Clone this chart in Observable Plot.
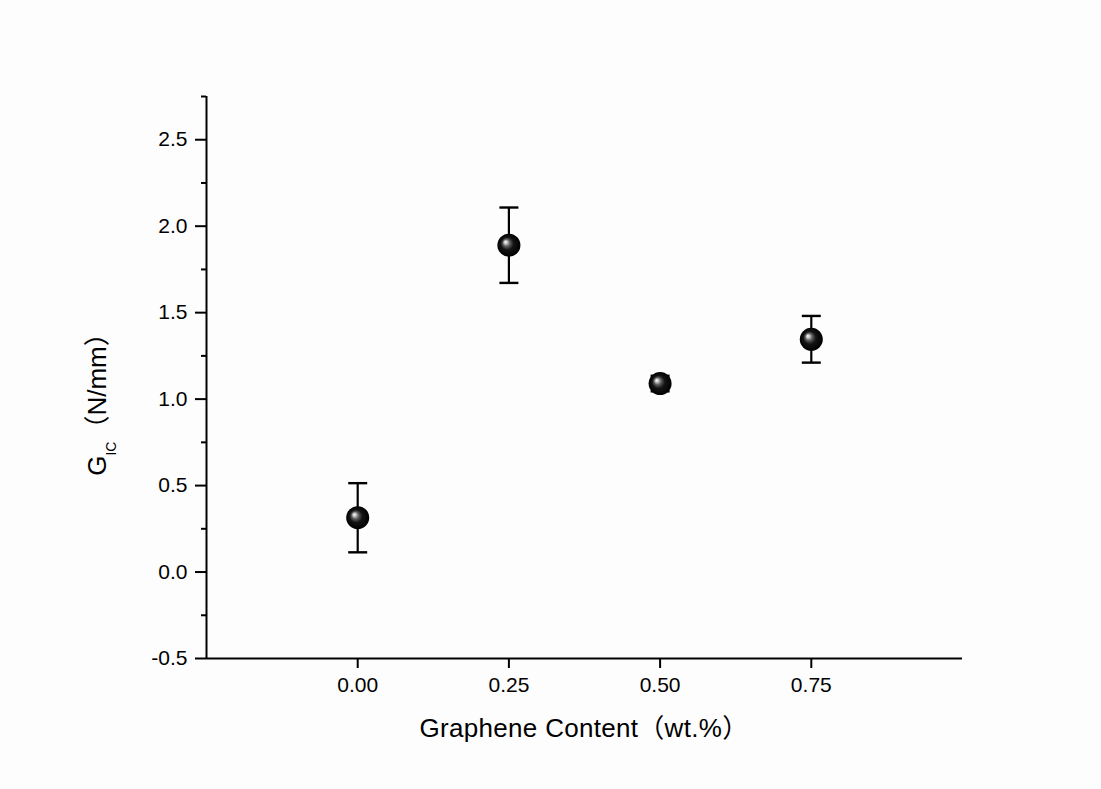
<!DOCTYPE html>
<html>
<head>
<meta charset="utf-8">
<script src="https://cdn.jsdelivr.net/npm/d3@7"></script>
<script src="https://cdn.jsdelivr.net/npm/@observablehq/plot@0.6"></script>
<style>
  html, body { margin: 0; padding: 0; background: #fdfdfd; }
  #chart svg { display: block; }
</style>
</head>
<body>
<div id="chart"></div>
<script>
// Fracture energy G_IC against graphene loading (mean ± error)
const content = [0.00, 0.25, 0.50, 0.75];
const gic = [0.314, 1.89, 1.09, 1.346];
const gicErr = [0.20, 0.218, 0.045, 0.135];

const xTicks = [0, 0.25, 0.5, 0.75];
const yTicks = [-0.5, 0, 0.5, 1.0, 1.5, 2.0, 2.5];
const yMinorTicks = [-0.25, 0.25, 0.75, 1.25, 1.75, 2.25, 2.75];

const xLabel = "Graphene Content（wt.%）";
const yLabelMain = "G";
const yLabelSub = "IC";
const yLabelUnit = "（N/mm）";

const points = content.map((x, i) => ({x, y: gic[i], lo: gic[i] - gicErr[i], hi: gic[i] + gicErr[i]}));
const caps = points.flatMap(d => [{x: d.x, y: d.lo}, {x: d.x, y: d.hi}]);

// horizontal bar used for the error-bar caps; half-width equals the dot radius
const capSymbol = {
  draw(ctx, size) {
    const w = Math.sqrt(size / Math.PI);
    ctx.moveTo(-w, 0);
    ctx.lineTo(w, 0);
  }
};

// shaded sphere fill for the markers
function sphereDefs() {
  const defs = d3.create("svg:defs");
  const g = defs.append("radialGradient")
    .attr("id", "sphere")
    .attr("cx", "50%").attr("cy", "50%").attr("r", "50%")
    .attr("fx", "34%").attr("fy", "35%");
  [[0, "#ffffff"], [0.12, "#cfcfcf"], [0.32, "#5a5a5a"], [0.55, "#141414"], [1, "#000000"]]
    .forEach(([o, c]) => g.append("stop").attr("offset", o).attr("stop-color", c));
  return defs.node();
}

// axis titles, the vertical one with a subscript
function axisTitles(index, scales, values, dims) {
  const g = d3.create("svg:g").attr("fill", "black").attr("font-size", 26);
  const x0 = dims.marginLeft, x1 = dims.width - dims.marginRight;
  const y0 = dims.marginTop, y1 = dims.height - dims.marginBottom;
  g.append("text")
    .attr("x", (x0 + x1) / 2)
    .attr("y", y1 + 79)
    .attr("text-anchor", "middle")
    .attr("letter-spacing", 0.3)
    .text(xLabel);
  const t = g.append("text")
    .attr("transform", `translate(${x0 - 100},${(y0 + y1) / 2 + 21}) rotate(-90)`)
    .attr("text-anchor", "middle");
  t.append("tspan").text(yLabelMain);
  t.append("tspan").attr("font-size", 14).attr("dy", 10).text(yLabelSub);
  t.append("tspan").attr("dy", -10).text(yLabelUnit);
  return g.node();
}

const chart = Plot.plot({
  width: 1101,
  height: 789,
  marginLeft: 206,
  marginRight: 139,
  marginTop: 96,
  marginBottom: 131,
  style: {
    background: "transparent",
    color: "black",
    fontFamily: "'Liberation Sans', Arial, 'Noto Sans CJK SC', sans-serif",
    overflow: "visible"
  },
  x: {domain: [-0.25, 1.0], label: null},
  y: {domain: [-0.5, 2.75], label: null},
  marks: [
    sphereDefs,
    Plot.axisY(yMinorTicks, {tickSize: 5, strokeWidth: 2, tickFormat: () => "", label: null}),
    Plot.axisY(yTicks, {tickSize: 11, tickPadding: 8, strokeWidth: 2, fontSize: 21, tickFormat: d => d.toFixed(1), label: null}),
    Plot.axisX(xTicks, {tickSize: 10, tickPadding: 9, strokeWidth: 2, fontSize: 21, tickFormat: d => d.toFixed(2), label: null}),
    Plot.ruleX([-0.25], {strokeWidth: 2}),
    Plot.ruleY([-0.5], {strokeWidth: 2}),
    Plot.ruleX(points, {x: "x", y1: "lo", y2: "hi", strokeWidth: 2.2, stroke: "black"}),
    Plot.dot(caps, {x: "x", y: "y", r: 9.5, symbol: capSymbol, stroke: "black", strokeWidth: 2.4, fill: "none"}),
    Plot.dot(points, {x: "x", y: "y", r: 11.5, fill: "url(#sphere)", stroke: "none"}),
    axisTitles
  ]
});

document.getElementById("chart").append(chart);
</script>
</body>
</html>
